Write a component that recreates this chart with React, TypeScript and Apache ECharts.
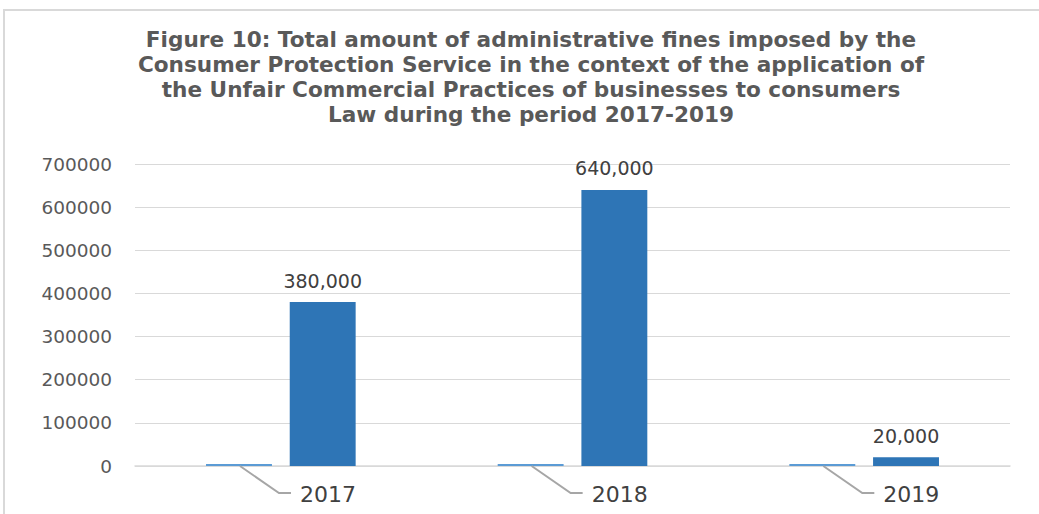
import React, { useEffect, useRef } from "react";
import * as echarts from "echarts";

const titleText =
  "Figure 10: Total amount of administrative fines imposed by the\nConsumer Protection Service in the context of the application of\nthe Unfair Commercial Practices of businesses to consumers\nLaw during the period 2017-2019";
const categories = ["2017", "2018", "2019"];
const yearValues = [2017, 2018, 2019];
const fineValues = [380000, 640000, 20000];
const yMin = 0;
const yMax = 700000;
const yInterval = 100000;

const BAR_W = 0.226;
const BAR_GAP = 0.27;

export default function App() {
  const ref = useRef<HTMLDivElement>(null);
  useEffect(() => {
    if (!ref.current) return;
    const chart = echarts.init(ref.current, undefined, { renderer: "svg" });
    chart.setOption({
      animation: false,
      backgroundColor: "#ffffff",
      graphic: [
        {
          type: "rect",
          shape: { x: 4, y: 10, width: 1300, height: 800 },
          style: { fill: "none", stroke: "#D9D9D9", lineWidth: 2 },
          silent: true,
        },
        {
          type: "text",
          x: 531,
          y: 27,
          silent: true,
          style: {
            text: titleText,
            fontFamily: "DejaVu Sans",
            fontWeight: "bold",
            fontSize: 21.6,
            lineHeight: 25,
            fill: "#595959",
            textAlign: "center",
            verticalAlign: "top",
          },
        },
      ],
      grid: { left: 135, right: 29, top: 164, bottom: 48 },
      xAxis: {
        type: "category",
        data: categories,
        axisLine: { show: true, lineStyle: { color: "#D9D9D9", width: 1.5 } },
        axisTick: { show: false },
        axisLabel: { show: false },
      },
      yAxis: {
        type: "value",
        min: yMin,
        max: yMax,
        interval: yInterval,
        axisLine: { show: false },
        axisTick: { show: false },
        axisLabel: {
          fontFamily: "DejaVu Sans",
          fontSize: 18.5,
          color: "#595959",
          margin: 23,
          formatter: (v: number) => String(v),
        },
        splitLine: { lineStyle: { color: "#D9D9D9", width: 1.2 } },
      },
      series: [
        {
          name: "Year",
          type: "bar",
          data: yearValues,
          barWidth: BAR_W * 100 + "%",
          barGap: BAR_GAP * 100 + "%",
          barMinHeight: 2,
          itemStyle: { color: "#5B9BD5" },
          z: 3,
        },
        {
          name: "Fines",
          type: "bar",
          data: fineValues,
          barWidth: BAR_W * 100 + "%",
          barGap: BAR_GAP * 100 + "%",
          itemStyle: { color: "#2E75B6" },
          label: {
            show: true,
            position: "top",
            distance: 12,
            fontFamily: "DejaVu Sans",
            fontSize: 19,
            color: "#404040",
            formatter: (p: any) => Number(p.value).toLocaleString("en-US"),
          },
        },
        {
          name: "YearLabels",
          type: "custom",
          data: yearValues.map((v, i) => [i, v]),
          encode: { x: 0, y: 1 },
          z: 5,
          renderItem: (params: any, api: any) => {
            const idx = api.value(0);
            const yr = api.value(1);
            const p = api.coord([idx, 0]);
            const band = api.size([1, 0])[0];
            const bw = band * BAR_W;
            const gap = bw * BAR_GAP;
            const cx = p[0] - (bw + gap) / 2;
            const y0 = p[1];
            return {
              type: "group",
              children: [
                {
                  type: "polyline",
                  shape: {
                    points: [
                      [cx + 1, y0],
                      [cx + 40, y0 + 27],
                      [cx + 52, y0 + 27],
                    ],
                  },
                  style: { stroke: "#A6A6A6", lineWidth: 2, fill: "none" },
                },
                {
                  type: "text",
                  x: cx + 61,
                  y: y0 + 28,
                  style: {
                    text: String(yr),
                    fontFamily: "DejaVu Sans",
                    fontSize: 22,
                    fill: "#404040",
                    textAlign: "left",
                    verticalAlign: "middle",
                  },
                },
              ],
            };
          },
        },
      ],
    });
    return () => chart.dispose();
  }, []);
  return (
    <div
      ref={ref}
      style={{ position: "fixed", left: 0, top: 0, width: 1039, height: 514 }}
    />
  );
}
